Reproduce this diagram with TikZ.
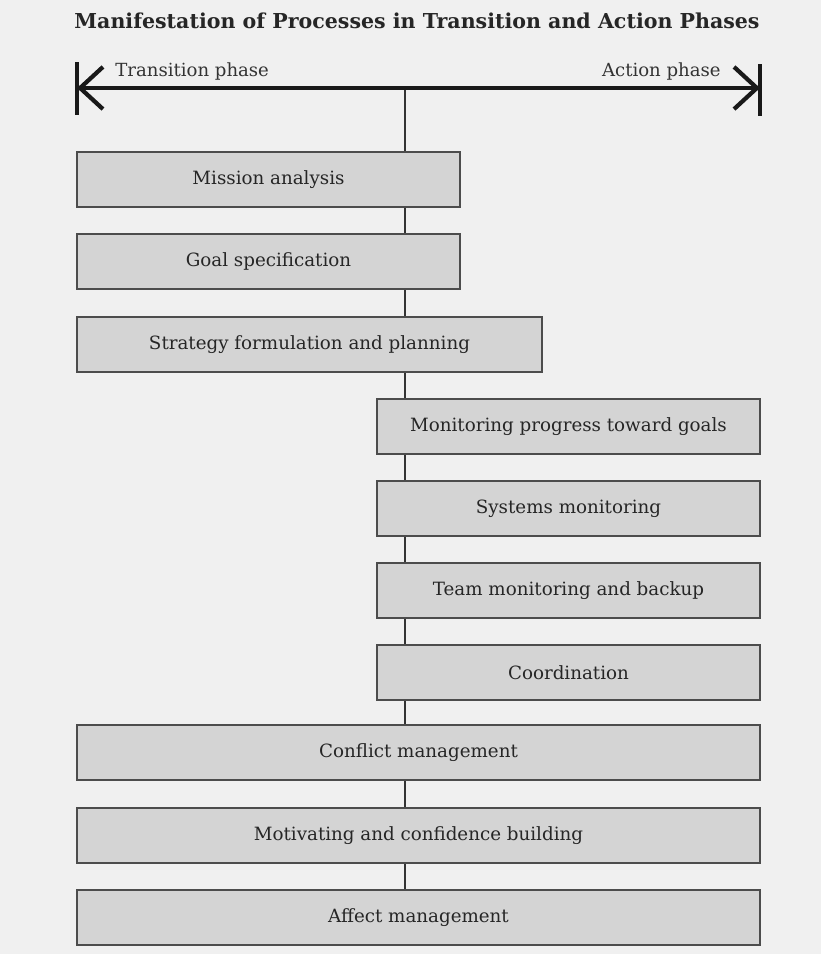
\documentclass[tikz,border=0pt]{standalone}
\usepackage{fontspec}
\setmainfont{DejaVu Serif}
\usetikzlibrary{arrows.meta,backgrounds}
\begin{document}
\begin{tikzpicture}[x=0.02cm,y=-0.02cm,
  box/.style={draw=black!70, line width=0.8pt, fill=black!17, minimum height=1.1cm,
    inner sep=0pt, font=\fontsize{10.4}{12}\selectfont, text=black!85},
  narrow/.style={box, minimum width=7.66cm},
  mid/.style={box, minimum width=9.3cm},
  wide/.style={box, minimum width=13.66cm},
  spine/.style={draw=black!80, line width=1pt},
  axis/.style={draw=black!90, line width=2.4pt,
    {Straight Barb[length=13pt,width=24pt,line width=2.4pt]}-{Straight Barb[length=13pt,width=24pt,line width=2.4pt]}},
  endbar/.style={draw=black!90, line width=2.6pt},
  phase/.style={font=\fontsize{10.3}{12}\selectfont, text=black!80, inner sep=0pt},
  titlestyle/.style={font=\bfseries\fontsize{11.7}{13}\selectfont, text=black!85, inner sep=0pt}
]
\node[titlestyle] (title) at (417,21) {Manifestation of Processes in Transition and Action Phases};

\coordinate (L) at (77,88);
\coordinate (R) at (760,88);
\coordinate (Lt) at (77,62);
\coordinate (Lb) at (77,115);
\coordinate (Rt) at (760,64);
\coordinate (Rb) at (760,116);
\coordinate (top) at (405,88);

\node[phase, anchor=west] (tp) at (115,72) {Transition phase};
\node[phase, anchor=east] (ap) at (721,72) {Action phase};

\node[narrow] (m1) at (268.5,179.5) {Mission analysis};
\node[narrow] (m2) at (268.5,261.5) {Goal specification};
\node[mid] (m3) at (309.5,344.5) {Strategy formulation and planning};
\node[narrow] (m4) at (568.5,426.5) {Monitoring progress toward goals};
\node[narrow] (m5) at (568.5,508.5) {Systems monitoring};
\node[narrow] (m6) at (568.5,590.5) {Team monitoring and backup};
\node[narrow] (m7) at (568.5,672.5) {Coordination};
\node[wide] (m8) at (418.5,752.5) {Conflict management};
\node[wide] (m9) at (418.5,835.5) {Motivating and confidence building};
\node[wide] (m10) at (418.5,917.5) {Affect management};

\begin{scope}[on background layer]
  \fill[black!6] (0,0) rectangle (821,954);
  \draw[spine] (top) -- (top |- m10.north);
\end{scope}

\draw[axis] (L) -- (R);
\draw[endbar] (Lt) -- (Lb);
\draw[endbar] (Rt) -- (Rb);
\end{tikzpicture}
\end{document}
